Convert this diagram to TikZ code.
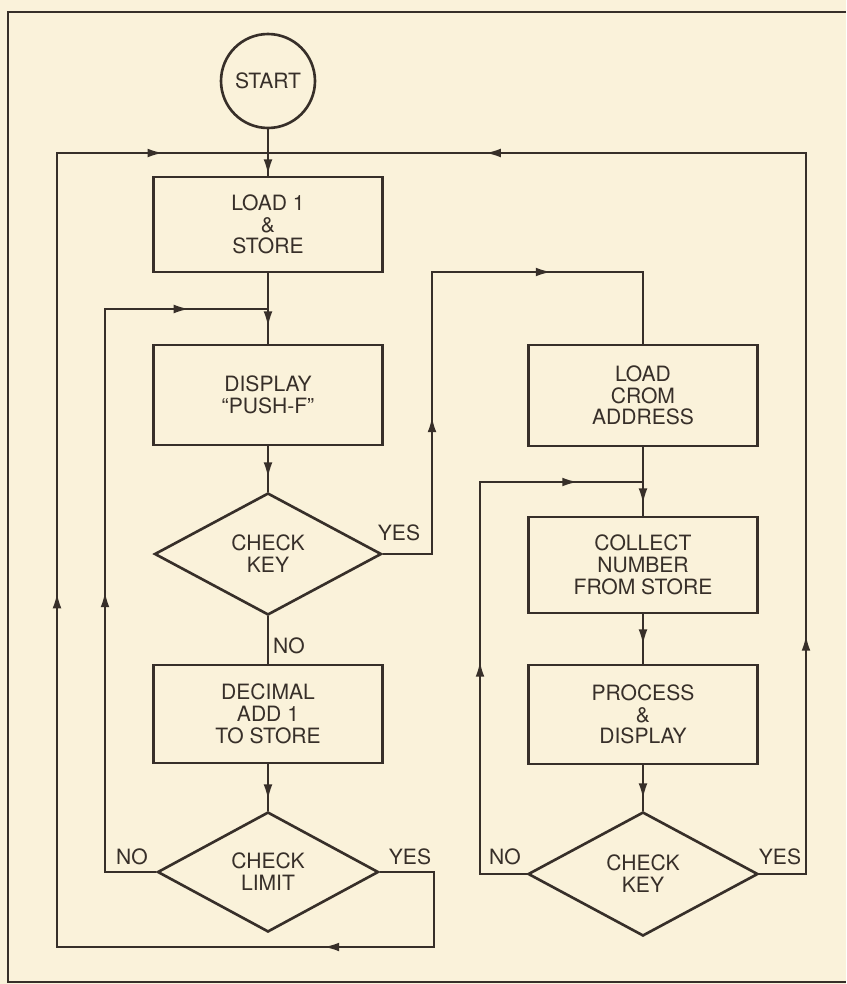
\documentclass[tikz,border=0pt]{standalone}
\usepackage{fontspec}
\setmainfont{TeX Gyre Heros}
\usetikzlibrary{shapes.geometric,arrows.meta,decorations.markings}
\definecolor{paper}{RGB}{250,242,218}
\definecolor{ink}{RGB}{55,47,41}

\begin{document}
\begin{tikzpicture}[x=0.02cm,y=-0.02cm,
    every node/.style={font=\fontsize{12}{12.4}\selectfont,text=ink},
    box/.style={rectangle,draw=ink,line width=1.5pt,align=center,
                minimum width=4.58cm,inner sep=2pt},
    test/.style={diamond,draw=ink,line width=1.5pt,align=center,
                 aspect=2,inner sep=0pt},
    term/.style={circle,draw=ink,line width=1.5pt,minimum size=1.88cm,inner sep=0pt},
    flow/.style={draw=ink,line width=0.9pt},
    arrowat/.style={postaction={decorate,decoration={markings,
        mark=at position #1 with {\arrow{Latex[length=8.5pt,width=5pt]}}}}},
  ]
  \useasboundingbox (0,0) rectangle (846,984);
  \fill[paper] (0,0) rectangle (846,984);
  \draw[ink,line width=1.3pt] (846,12) -- (8,12) -- (8,982) -- (846,982);

  %% left column
  \node[term] (start) at (268,81) {START};
  \node[box,minimum height=1.9cm] (load) at (268,224.5) {LOAD 1\\\&\\STORE};
  \node[box,minimum height=2cm] (disp) at (268,395) {DISPLAY\\“PUSH-F”};
  \node[test,minimum width=4.54cm,minimum height=2.44cm] (chkkey) at (268,554) {CHECK\\KEY};
  \node[box,minimum height=1.96cm] (dec) at (268,714) {DECIMAL\\ADD 1\\TO STORE};
  \node[test,minimum width=4.42cm,minimum height=2.4cm] (chklim) at (268,872) {CHECK\\LIMIT};

  %% right column
  \node[box,minimum height=2.02cm] (crom) at (643,395.5) {LOAD\\CROM\\ADDRESS};
  \node[box,minimum height=1.92cm] (coll) at (643,565) {COLLECT\\NUMBER\\FROM STORE};
  \node[box,minimum height=1.98cm] (proc) at (643,714.5) {PROCESS\\\&\\DISPLAY};
  \node[test,minimum width=4.6cm,minimum height=2.48cm] (chkkey2) at (643,874) {CHECK\\KEY};

  %% branch labels
  \node (yes1) at (399,533) {YES};
  \node (no1) at (289,646) {NO};
  \node (no2) at (132,857) {NO};
  \node (yes2) at (410,857) {YES};
  \node (no3) at (505,857) {NO};
  \node (yes3) at (780,857) {YES};

  %% joins
  \coordinate (j1) at (268,153);
  \coordinate (j2) at (268,309);
  \coordinate (j3) at (643,482);

  %% straight flow
  \draw[flow,arrowat=0.9cm] (start.south) -- (load.north);
  \draw[flow,arrowat=1.06cm] (load.south) -- (disp.north);
  \draw[flow,arrowat=0.62cm] (disp.south) -- (chkkey.north);
  \draw[flow] (chkkey.south) -- (dec.north);
  \draw[flow,arrowat=0.7cm] (dec.south) -- (chklim.north);
  \draw[flow,arrowat=1.12cm] (crom.south) -- (coll.north);
  \draw[flow,arrowat=0.6cm] (coll.south) -- (proc.north);
  \draw[flow,arrowat=0.66cm] (proc.south) -- (chkkey2.north);

  %% loops
  \draw[flow,arrowat=3.72cm,arrowat=9.0cm]
    (chkkey.east) -- (432,554) |- (643,272) -- (crom.north);
  \draw[flow,arrowat=6.62cm,arrowat=13.96cm]
    (chklim.west) -- (105,872) |- (j2);
  \draw[flow,arrowat=4.78cm,arrowat=17.2cm,arrowat=28.12cm]
    (chklim.east) -- (434,872) -- (434,947) -- (57,947) |- (j1);
  \draw[flow,arrowat=5.18cm,arrowat=10.72cm]
    (chkkey2.west) -- (480,874) |- (j3);
  \draw[flow,arrowat=5.7cm,arrowat=21.76cm]
    (chkkey2.east) -- (806,874) |- (j1);
\end{tikzpicture}
\end{document}
